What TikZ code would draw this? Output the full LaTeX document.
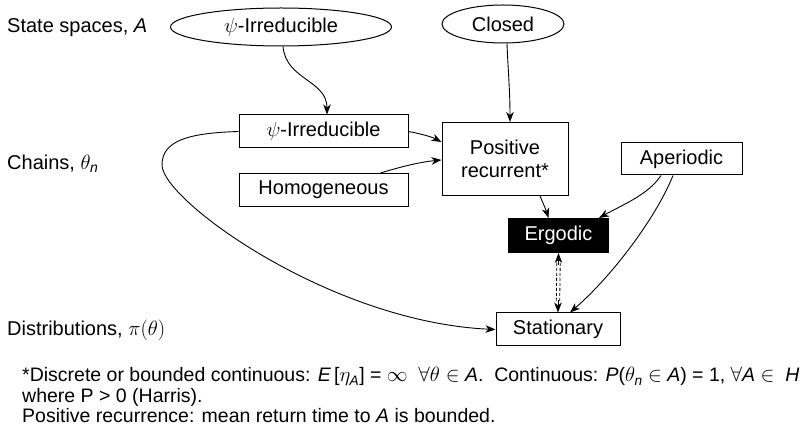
\documentclass[tikz,border=0pt]{standalone}
\usepackage{amsmath}
\usepackage{fontspec}
\setmainfont{Liberation Sans}
\usetikzlibrary{shapes.geometric,arrows.meta,calc}
\tikzset{
  lbl/.style={font=\fontsize{20}{23}\selectfont},
  ell/.style={ellipse,draw,line width=1pt,inner sep=0pt,lbl},
  bx/.style={rectangle,draw,line width=1pt,inner sep=0pt,lbl,align=center},
  side/.style={anchor=west,inner sep=0pt,lbl},
  arr/.style={line width=0.9pt,-{Stealth[length=10pt,width=7.5pt,inset=3pt]}},
  tip/.style={line width=0.9pt,-{Stealth[length=10pt,width=7.5pt,inset=3pt]}},
  foot/.style={anchor=base west,inner sep=0pt,font=\fontsize{19.5}{20.5}\selectfont}
}
\begin{document}
\begin{tikzpicture}[x=1pt,y=-1pt]
\useasboundingbox (0,0) rectangle (812,435);
% side labels
\node[side] (lA) at (7,28) {State spaces, \textit{A}};
\node[side] (lC) at (7,164) {Chains, $\theta_{\textit{n}}$};
\node[side] (lD) at (7,330) {Distributions, $\pi(\theta)$};
% nodes
\node[ell,minimum width=221pt,minimum height=38pt] (e1) at (281,27) {$\psi$-Irreducible};
\node[ell,minimum width=122pt,minimum height=38pt] (e2) at (503,24) {Closed};
\node[bx,minimum width=169pt,minimum height=33pt] (b1) at (323.5,131.5) {$\psi$-Irreducible};
\node[bx,minimum width=169pt,minimum height=33pt] (hm) at (323.5,190) {Homogeneous};
\node[bx,minimum width=126pt,minimum height=73pt] (pr) at (505,159) {Positive\\recurrent*};
\node[bx,minimum width=121pt,minimum height=32pt] (ap) at (681.5,159) {Aperiodic};
\node[bx,fill=black,text=white,minimum width=100pt,minimum height=34pt] (er) at (558.5,235.5) {Ergodic};
\node[bx,minimum width=124pt,minimum height=33pt] (st) at (558,329.5) {Stationary};
% connectors
\draw[arr] ([xshift=2pt]e1.south) .. controls (286,80) and (327,80) .. ([xshift=3.5pt]b1.north);
\draw[arr] ([xshift=4pt]e2.south) .. controls (508,70) and (510,90) .. ([xshift=5pt]pr.north);
\draw[arr] (b1.east) .. controls (422,134) and (432,137) .. ($(pr.north west)+(0,20)$);
\draw[arr] ($(hm.north east)+(-28,0)$) .. controls (400,167) and (420,162) .. ($(pr.north west)+(0,38)$);
\draw[arr] (b1.west) .. controls (190,133) and (162,140) .. (162,165)
  .. controls (162,200) and (330,322) .. (st.west);
\draw[arr] ($(pr.south)+(35,0)$) .. controls (543,203) and (546,210) .. ($(er.north)+(-10,0)$);
\draw[arr] ($(ap.south)+(-20.5,0)$) .. controls (648,195) and (622,205) .. ($(er.north east)+(-10,0)$);
\draw[arr] ($(ap.south)+(-8.5,0)$) .. controls (655,220) and (610,278) .. ($(st.north)+(12,0)$);
% ergodic <-> stationary
\coordinate (ea) at ($(er.south)+(0,10)$);
\coordinate (sa) at ($(st.north)+(0,-10)$);
\draw[line width=0.8pt,dash pattern=on 3pt off 2pt] ($(ea)+(-1.7,0)$) -- ($(sa)+(-1.7,0)$);
\draw[line width=0.8pt,dash pattern=on 3pt off 2pt] ($(ea)+(1.7,0)$) -- ($(sa)+(1.7,0)$);
\draw[tip] ($(ea)+(0,2)$) -- (er.south);
\draw[tip] ($(sa)+(0,-2)$) -- (st.north);
% footnote
\node[foot] (f1) at (22,382) {*Discrete or bounded continuous: \textit{E}\,[$\eta_{\textit{A}}$] = $\infty$ \ $\forall\theta\in$ \textit{A}.\ \ Continuous: \textit{P}($\theta_{\textit{n}}$ $\in$ \textit{A}) = 1, $\forall$\textit{A} $\in$ \ \textit{H}};
\node[foot] (f2) at (22,403) {where P {\textgreater} 0 (Harris).};
\node[foot] (f3) at (22,423) {Positive recurrence: mean return time to \textit{A} is bounded.};
\end{tikzpicture}
\end{document}
